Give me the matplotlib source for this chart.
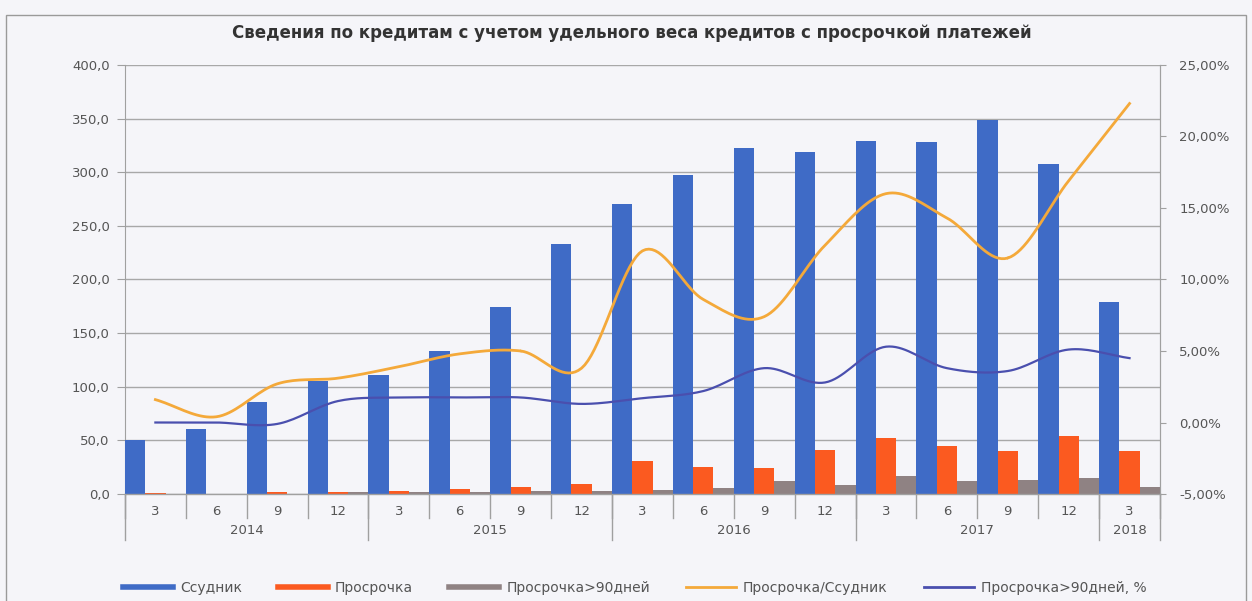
import numpy as np
import matplotlib
matplotlib.use('Agg')
import matplotlib.pyplot as plt
from matplotlib.lines import Line2D
from matplotlib.patches import Rectangle
from matplotlib.ticker import FuncFormatter
import matplotlib.transforms as mtransforms

plt.rcParams['font.family'] = ['DejaVu Sans']

TITLE = 'Сведения по кредитам с учетом удельного веса кредитов с просрочкой платежей'

months = ['3', '6', '9', '12', '3', '6', '9', '12', '3', '6', '9', '12', '3', '6', '9', '12', '3']
years = ['2014', '2015', '2016', '2017', '2018']
year_sizes = [4, 4, 4, 4, 1]

# values
ssudnik = [50, 61, 86, 105, 111, 133, 174, 233, 270, 297, 323, 319, 329, 328, 349, 308, 179]
prosrochka = [0.5, 0.4, 1.5, 2, 3, 5, 7, 9, 31, 25, 24, 41, 52, 45, 40, 54, 40]
prosrochka_90 = [0.2, 0.2, 0.3, 1.5, 1.8, 2.2, 2.8, 2.5, 4, 6, 12, 8, 17, 12, 13, 15, 7]
ratio_pct = [1.6, 0.4, 2.7, 3.1, 3.9, 4.8, 5.0, 3.8, 12.0, 8.6, 7.4, 12.4, 16.0, 14.3, 11.5, 16.9, 22.3]
ratio_90_pct = [0.0, 0.0, -0.1, 1.5, 1.75, 1.75, 1.75, 1.3, 1.7, 2.2, 3.8, 2.8, 5.3, 3.8, 3.6, 5.1, 4.5]

C_BLUE = '#3f6bc6'
C_ORANGE = '#fb5a20'
C_GREY = '#8f8283'
C_LINE1 = '#f4a93a'
C_LINE2 = '#4a4fae'
BG = '#f5f5f9'
TXT = '#555555'
FS = 9.5


def smooth(x, y, n=20):
    # catmull-rom curve like the excel "smoothed line"
    x = np.asarray(x, float)
    y = np.asarray(y, float)
    px = np.concatenate([[2 * x[0] - x[1]], x, [2 * x[-1] - x[-2]]])
    py = np.concatenate([[2 * y[0] - y[1]], y, [2 * y[-1] - y[-2]]])
    xs, ys = [], []
    t = np.linspace(0, 1, n)
    for i in range(1, len(px) - 2):
        for p, out in ((px, xs), (py, ys)):
            p0, p1, p2, p3 = p[i - 1], p[i], p[i + 1], p[i + 2]
            out.extend(0.5 * ((2 * p1) + (-p0 + p2) * t
                              + (2 * p0 - 5 * p1 + 4 * p2 - p3) * t ** 2
                              + (-p0 + 3 * p1 - 3 * p2 + p3) * t ** 3))
    return np.array(xs), np.array(ys)


fig = plt.figure(figsize=(12.52, 6.01), dpi=100, facecolor=BG)
fig.patches.append(Rectangle((0.005, -0.02), 0.99, 0.995, transform=fig.transFigure,
                             fill=False, edgecolor='#9a9a9a', linewidth=1.0))

ax = fig.add_axes([0.0998, 0.178, 0.8267, 0.714])
ax.set_facecolor(BG)
x = np.arange(len(months))
w = 1 / 3
ax.bar(x - w, ssudnik, width=w, color=C_BLUE, zorder=3)
ax.bar(x, prosrochka, width=w, color=C_ORANGE, zorder=3)
ax.bar(x + w, prosrochka_90, width=w, color=C_GREY, zorder=3)

ax.set_xlim(-0.5, len(months) - 0.5)
ax.set_ylim(0, 400)
ax.set_yticks(np.arange(0, 401, 50))
ax.yaxis.set_major_formatter(FuncFormatter(lambda v, p: f'{v:.1f}'.replace('.', ',')))
ax.grid(axis='y', color='#a8a8a8', linewidth=1.0, zorder=0)
ax.tick_params(axis='y', colors='#a0a0a0', labelcolor=TXT, labelsize=FS, length=6, pad=5)
for s in ['top', 'bottom']:
    ax.spines[s].set_visible(False)
ax.spines['left'].set_color('#a0a0a0')
ax.spines['right'].set_color('#a0a0a0')

ax.set_xticks(x)
ax.set_xticklabels(months)
ax.tick_params(axis='x', length=0, labelcolor=TXT, labelsize=FS, pad=8)

# two-level category axis: separators and year labels
trans = mtransforms.blended_transform_factory(ax.transData, ax.transAxes)
ax.plot([-0.5, len(months) - 0.5], [0, 0], transform=trans, color='#a0a0a0', lw=1, clip_on=False, zorder=4)
bounds = [-0.5]
for n in year_sizes:
    bounds.append(bounds[-1] + n)
for b in np.arange(-0.5, len(months), 1.0):
    ax.plot([b, b], [0, -0.055], transform=trans, color='#a0a0a0', lw=1, clip_on=False)
for b in bounds:
    ax.plot([b, b], [0, -0.108], transform=trans, color='#a0a0a0', lw=1, clip_on=False)
for i, yr in enumerate(years):
    ax.text((bounds[i] + bounds[i + 1]) / 2, -0.085, yr, transform=trans, ha='center', va='center',
            color=TXT, fontsize=FS)

ax2 = ax.twinx()
ax2.set_ylim(-5, 25)
ax2.set_yticks(np.arange(-5, 26, 5))
ax2.yaxis.set_major_formatter(FuncFormatter(lambda v, p: f'{v:.2f}%'.replace('.', ',')))
ax2.tick_params(axis='y', colors='#a0a0a0', labelcolor=TXT, labelsize=FS, length=4, pad=10)
for s in ['top', 'bottom', 'left']:
    ax2.spines[s].set_visible(False)
ax2.spines['right'].set_color('#a0a0a0')

sx, sy = smooth(x, ratio_pct)
ax2.plot(sx, sy, color=C_LINE1, lw=2.0, zorder=5)
sx, sy = smooth(x, ratio_90_pct)
ax2.plot(sx, sy, color=C_LINE2, lw=1.6, zorder=5)

fig.text(0.505, 0.945, TITLE, ha='center', va='center', fontsize=12, fontweight='bold', color='#333333')

handles = [
    Line2D([], [], color=C_BLUE, lw=4),
    Line2D([], [], color=C_ORANGE, lw=4),
    Line2D([], [], color=C_GREY, lw=4),
    Line2D([], [], color=C_LINE1, lw=2),
    Line2D([], [], color=C_LINE2, lw=2),
]
labels = ['Ссудник', 'Просрочка', 'Просрочка>90дней', 'Просрочка/Ссудник', 'Просрочка>90дней, %']
fig.legend(handles, labels, loc='center', bbox_to_anchor=(0.507, 0.022), ncol=5, frameon=False,
           fontsize=10, handlelength=3.6, handletextpad=0.5, columnspacing=2.6, labelcolor=TXT)

fig.savefig('out.png', dpi=100, facecolor=BG)
